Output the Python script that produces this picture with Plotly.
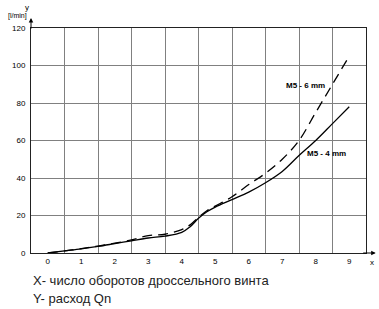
import plotly.graph_objects as go

# Data
x_vals = [0, 0.5, 1, 1.5, 2, 2.5, 3, 3.5, 4, 4.25, 4.5, 4.75, 5, 5.5, 6, 6.5, 7, 7.5, 8, 8.5, 9]
m5_4mm = [0, 1.1, 2.2, 3.5, 5, 6.5, 8, 9, 11, 14, 18.5, 22, 24.5, 28.5, 32.5, 37.5, 43.5, 52, 60, 69, 78]
m5_6mm = [0, 1.1, 2.3, 3.7, 5.2, 7, 9.3, 10, 12.5, 15, 19, 22.5, 25, 30, 36.5, 42.5, 50, 60, 75, 90, 105]
x_ticks = [0, 1, 2, 3, 4, 5, 6, 7, 8, 9]
x_grid = [-0.5, 0.5, 1.5, 2.5, 3.5, 4.5, 5.5, 6.5, 7.5, 8.5, 9.5]
y_ticks = [0, 20, 40, 60, 80, 100, 120]

FONT = "Liberation Sans, Arial, sans-serif"

fig = go.Figure()
fig.add_trace(go.Scatter(x=x_vals, y=m5_6mm, mode="lines", line=dict(color="black", width=1.3, dash="10px,6px"),
                         line_shape="spline", hoverinfo="skip"))
fig.add_trace(go.Scatter(x=x_vals, y=m5_4mm, mode="lines", line=dict(color="black", width=1.3),
                         line_shape="spline", hoverinfo="skip"))

fig.update_layout(
    width=379, height=309,
    margin=dict(l=26, r=13, t=28, b=56),
    paper_bgcolor="white", plot_bgcolor="white",
    showlegend=False,
    font=dict(family=FONT, color="black", size=8),
    xaxis=dict(range=[-0.5, 9.5], tickvals=x_ticks, ticktext=[str(v) for v in x_ticks],
               showgrid=False, zeroline=False, showline=True, linecolor="#222", linewidth=1,
               mirror=True, ticks="", ticklabelstandoff=0,
               minor=dict(tickvals=x_grid, showgrid=True, gridcolor="#808080", gridwidth=1, ticks=""),
               tickfont=dict(size=8, family=FONT, color="black")),
    yaxis=dict(range=[0, 120], tickvals=y_ticks, showgrid=True, gridcolor="#808080", gridwidth=1,
               zeroline=False, showline=True, linecolor="#222", linewidth=1, mirror=True,
               ticks="", ticklabelstandoff=3,
               tickfont=dict(size=8, family=FONT, color="black")),
)

# axis arrows
fig.add_annotation(x=0, y=1.044, xref="paper", yref="paper", ax=0, ay=12, text="",
                   showarrow=True, arrowhead=2, arrowsize=0.9, arrowwidth=1, arrowcolor="black")
fig.add_annotation(x=1.029, y=0, xref="paper", yref="paper", ax=-14, ay=0, text="",
                   showarrow=True, arrowhead=2, arrowsize=0.9, arrowwidth=1, arrowcolor="black")

# axis labels
fig.add_annotation(x=-0.012, y=1.093, xref="paper", yref="paper", text="y", showarrow=False,
                   xanchor="center", yanchor="middle", font=dict(size=8, family=FONT))
fig.add_annotation(x=-0.041, y=1.053, xref="paper", yref="paper", text="[l/min]", showarrow=False,
                   xanchor="center", yanchor="middle", font=dict(size=7, family=FONT))
fig.add_annotation(x=1.018, y=-0.042, xref="paper", yref="paper", text="x", showarrow=False,
                   xanchor="center", yanchor="middle", font=dict(size=8, family=FONT))

# curve labels
fig.add_annotation(x=7.7, y=89.5, text="<b>M5 - 6 mm</b>", showarrow=False, font=dict(size=8, family=FONT))
fig.add_annotation(x=8.33, y=53.3, text="<b>M5 - 4 mm</b>", showarrow=False, font=dict(size=8, family=FONT))

# bottom notes
fig.add_annotation(x=0.0, y=-0.12, xref="paper", yref="paper", xanchor="left", yanchor="middle",
                   text="X- число оборотов дроссельного винта", showarrow=False,
                   font=dict(size=13, family=FONT, color="#222"))
fig.add_annotation(x=0.0, y=-0.2, xref="paper", yref="paper", xanchor="left", yanchor="middle",
                   text="Y- расход Qn", showarrow=False,
                   font=dict(size=13, family=FONT, color="#222"))

fig.write_html("out.html")
